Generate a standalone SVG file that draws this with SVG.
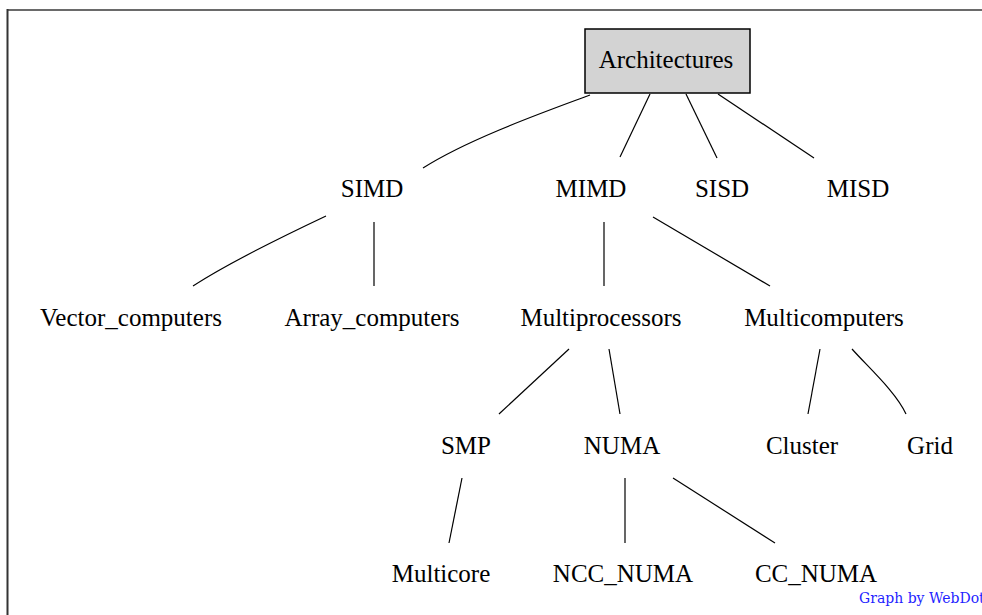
<svg xmlns="http://www.w3.org/2000/svg" width="982" height="615" viewBox="0 0 982 615">
<style>
  .lbl { font-family: "Liberation Serif", "Times New Roman", serif; font-size: 25px; fill: #000; text-anchor: middle; }
  .edge { fill: none; stroke: #000; stroke-width: 1.2; }
  .box { fill: #d3d3d3; stroke: #000; stroke-width: 1.5; }
  .credit { font-family: "DejaVu Serif", serif; font-size: 14px; fill: #1f1fff; }
</style>
<rect x="0" y="0" width="982" height="615" fill="#fff"/>
<g id="frame">
  <path d="M7,10 H982" stroke="#6a6a6a" stroke-width="2" fill="none"/>
  <path d="M7.5,9 V615" stroke="#333" stroke-width="2" fill="none"/>
</g>
<g id="connectors">
  <path class="edge" d="M590,95 C550,110 470,138 423,168"/>
  <path class="edge" d="M650,94 L620,157"/>
  <path class="edge" d="M686,94 L717,158"/>
  <path class="edge" d="M718,94 L814,158"/>
  <path class="edge" d="M326,216 C290,233 230,262 193,286"/>
  <path class="edge" d="M374,222 L374,286"/>
  <path class="edge" d="M604,222 L604,286"/>
  <path class="edge" d="M653,217 L770,286"/>
  <path class="edge" d="M569,349 L499,414"/>
  <path class="edge" d="M609,349 L620,414"/>
  <path class="edge" d="M820,349 L808,414"/>
  <path class="edge" d="M852,349 C868,367 896,392 906,414"/>
  <path class="edge" d="M462,478 L449,543"/>
  <path class="edge" d="M625,478 L625,543"/>
  <path class="edge" d="M673,478 L775,543"/>
</g>
<g id="Architectures">
  <rect class="box" x="585" y="29" width="165" height="64"/>
  <text class="lbl" x="666" y="68">Architectures</text>
</g>
<g id="SIMD"><text class="lbl" x="372" y="197">SIMD</text></g>
<g id="MIMD"><text class="lbl" x="591" y="197">MIMD</text></g>
<g id="SISD"><text class="lbl" x="722" y="197">SISD</text></g>
<g id="MISD"><text class="lbl" x="858" y="197">MISD</text></g>
<g id="Vector_computers"><text class="lbl" x="131" y="326">Vector_computers</text></g>
<g id="Array_computers"><text class="lbl" x="372" y="326">Array_computers</text></g>
<g id="Multiprocessors"><text class="lbl" x="601" y="326">Multiprocessors</text></g>
<g id="Multicomputers"><text class="lbl" x="824" y="326">Multicomputers</text></g>
<g id="SMP"><text class="lbl" x="466" y="454">SMP</text></g>
<g id="NUMA"><text class="lbl" x="622" y="454">NUMA</text></g>
<g id="Cluster"><text class="lbl" x="802" y="454">Cluster</text></g>
<g id="Grid"><text class="lbl" x="930" y="454">Grid</text></g>
<g id="Multicore"><text class="lbl" x="441" y="582">Multicore</text></g>
<g id="NCC_NUMA"><text class="lbl" x="623" y="582">NCC_NUMA</text></g>
<g id="CC_NUMA"><text class="lbl" x="816" y="582">CC_NUMA</text></g>
<g id="credit"><text class="credit" x="859" y="603">Graph by WebDot</text></g>
</svg>
